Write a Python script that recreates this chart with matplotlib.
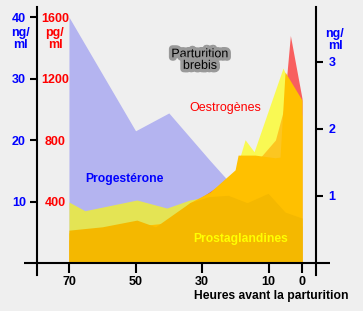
import matplotlib.pyplot as plt
import matplotlib.patheffects as pe

plt.rcParams['font.family'] = ['Liberation Sans', 'DejaVu Sans']
plt.rcParams['font.weight'] = 'bold'

# hours before birth
prog_h = [70, 50, 40, 27.7, 22.4, 18, 10, 0]
prog_ng = [40, 21.5, 24.4, 16.7, 13.5, 10, 8, 6]

oest_h = [70, 55, 45, 40, 33.7, 22.4, 19.7, 14, 8, 5.5, 3.5, 0]
oest_pg = [150, 180, 200, 250, 377, 540, 585, 650, 800, 1000, 1480, 1070]

yel_h = [70, 65.2, 49.6, 40.6, 33.7, 27, 20.5, 17.1, 14.4, 5.7, 0]
yel_ng = [0.91, 0.78, 0.94, 0.82, 0.94, 1.0, 1.27, 1.84, 1.66, 2.91, 2.2]

pg_h = [70, 50, 40, 33.7, 27.6, 20.1, 19.2, 14.1, 8.1, 6.6, 5.1, 0]
pg_ng = [0.45, 0.55, 0.6, 0.9, 1.06, 1.39, 1.61, 1.61, 1.57, 1.58, 2.85, 2.43]

pgd_h = [70, 60, 49.6, 44, 33.7, 28, 22.2, 16.5, 10.2, 5.1, 0]
pgd_ng = [0.49, 0.54, 0.64, 0.54, 0.90, 0.99, 1.01, 0.90, 1.04, 0.76, 0.67]

hour_ticks = [70, 50, 30, 10, 0]
ng_ticks = [10, 20, 30, 40]
pgml_ticks = [400, 800, 1200, 1600]
right_ticks = [1, 2, 3]

bg = '#efefef'
fs = 9
fig = plt.figure(figsize=(3.63, 3.11), dpi=100, facecolor=bg)
ax = fig.add_axes([24/363, 36/311, 306/363, 268/311])
ax.patch.set_visible(False)
ax.set_xlim(83.5, -8.4)
ax.set_ylim(-1.95, 41.63)

ax_pg = ax.twinx()
ax_pg.set_ylim(-1.95*40, 41.63*40)
ax_r = ax.twinx()
ax_r.set_ylim(-0.179, 3.82)

# fills, back to front
ax.fill_between(prog_h, prog_ng, color='#b4b4f0', lw=0)
ax_pg.fill_between(oest_h, oest_pg, color='#ff0000', alpha=0.6, lw=0)
ax_r.fill_between(yel_h, yel_ng, color='#ffff00', alpha=0.65, lw=0)
ax_r.fill_between(pg_h, pg_ng, color='#ffc000', lw=0)
ax_r.fill_between(pgd_h, pgd_ng, color='#f4b800', lw=0)
ax_r.axhline(0, color='black', lw=1.5)

# spines
for a in (ax, ax_pg, ax_r):
    for s in a.spines.values():
        s.set_visible(False)
ax.spines['left'].set_visible(True)
ax.spines['left'].set_position(('data', 79.6))
ax.spines['left'].set_linewidth(1.5)
ax.spines['bottom'].set_position(('data', 0))
ax_r.spines['right'].set_visible(True)
ax_r.spines['right'].set_position(('data', -4.2))
ax_r.spines['right'].set_linewidth(1.5)
ax_pg.spines['right'].set_position(('data', 79.6))

ax.set_xticks(hour_ticks)
ax.tick_params(axis='x', direction='out', length=7.5, width=1.5, pad=1.5,
               labelsize=fs, colors='black')
ax.set_yticks(ng_ticks)
ax.tick_params(axis='y', direction='out', length=5, width=1.5, pad=3,
               labelsize=fs, labelcolor='#0000ff')
ax_pg.set_yticks(pgml_ticks)
ax_pg.tick_params(axis='y', length=0, pad=13, labelsize=fs, labelcolor='#ff0000')
plt.setp(ax_pg.get_yticklabels(), ha='center')
ax_r.set_yticks(right_ticks)
ax_r.tick_params(axis='y', direction='out', length=5, width=1.5, pad=4,
                 labelsize=fs, labelcolor='#0000ff')

# unit labels
fig.text(20/363, 1-39/311, 'ng/\nml', color='#0000ff', fontsize=fs,
         ha='center', va='center', linespacing=0.9)
fig.text(55/363, 1-39/311, 'pg/\nml', color='#ff0000', fontsize=fs,
         ha='center', va='center', linespacing=0.9)
fig.text(335/363, 1-40/311, 'ng/\nml', color='#0000ff', fontsize=fs,
         ha='center', va='center', linespacing=0.9)
fig.text(348/363, 1-296/311, 'Heures avant la parturition', color='black',
         fontsize=8.7, ha='right', va='center')

ax.text(53.2, 13.7, 'Progestérone', color='#0000ff', fontsize=8.7,
        ha='center', va='center')
ax.text(23.1, 25.2, 'Oestrogènes', color='#ff0000', fontsize=9,
        fontweight='normal', ha='center', va='center')
ax_r.text(18.3, 0.36, 'Prostaglandines', color='#ffff00', fontsize=8.7,
          ha='center', va='center')
ax.text(30.6, 33.0, 'Parturition\nbrebis', color='black', fontsize=9,
        fontweight='normal', ha='center', va='center', linespacing=0.95,
        path_effects=[pe.withStroke(linewidth=5, foreground='#999999')])

fig.savefig('out.png', dpi=100, facecolor=bg)
